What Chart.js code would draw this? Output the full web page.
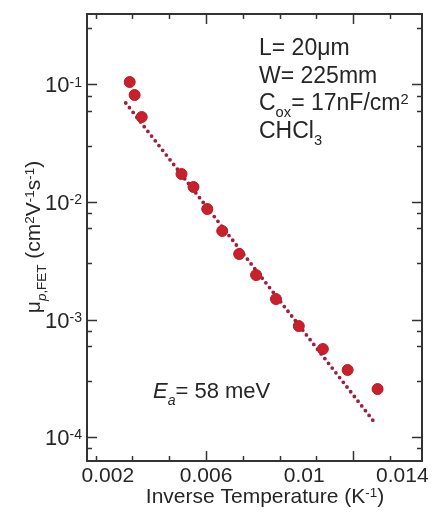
<!DOCTYPE html>
<html>
<head>
<meta charset="utf-8">
<script src="https://cdn.jsdelivr.net/npm/chart.js@4.4.1/dist/chart.umd.min.js"></script>
<style>
  html, body { margin: 0; padding: 0; background: #fff; }
  #wrap { width: 432px; height: 521px; position: relative; }
</style>
</head>
<body>
<div id="wrap"><canvas id="chart"></canvas></div>
<script>
// measured mobility vs inverse temperature
const inverseTemp = [0.00289, 0.00309, 0.00338, 0.00500, 0.00549, 0.00605, 0.00666,
                     0.00735, 0.00804, 0.00885, 0.00978, 0.01076, 0.01177, 0.01299];
const mobility = [0.1050, 0.0814, 0.0529, 0.01731, 0.01342, 0.00872, 0.00567,
                  0.00361, 0.00239, 0.001494, 0.000880, 0.000561, 0.000372, 0.000256];

// Arrhenius fit end points
const fitInverseTemp = [0.00273, 0.01282];
const fitMobility = [0.0696, 0.000137];

const xTickLabels = ['0.002', '0.006', '0.01', '0.014'];
const yDecades = [-1, -2, -3, -4];

const FONT = '"Liberation Sans", Arial, Helvetica, sans-serif';
const INK = '#262626';

// draw a run of text pieces; each piece may be 'sup', 'sub' and/or italic
function richWidth(ctx, parts, size) {
  let w = 0;
  parts.forEach(p => {
    const s = (p.sup || p.sub) ? size * 0.64 : size;
    ctx.font = (p.it ? 'italic ' : '') + s + 'px ' + FONT;
    w += ctx.measureText(p.t).width;
  });
  return w;
}

function drawRich(ctx, x, y, parts, size, align) {
  const w = richWidth(ctx, parts, size);
  let cx = align === 'right' ? x - w : align === 'center' ? x - w / 2 : x;
  ctx.textAlign = 'left';
  ctx.textBaseline = 'alphabetic';
  parts.forEach(p => {
    const s = (p.sup || p.sub) ? size * 0.64 : size;
    ctx.font = (p.it ? 'italic ' : '') + s + 'px ' + FONT;
    let dy = 0;
    if (p.sup) dy = -size * 0.27;
    if (p.sub) dy = size * 0.3;
    ctx.fillText(p.t, cx, y + dy);
    cx += ctx.measureText(p.t).width;
  });
}

const framePlugin = {
  id: 'frame',
  afterDraw(chart) {
    const ctx = chart.ctx;
    const a = chart.chartArea;
    const xs = chart.scales.x, ys = chart.scales.y;
    ctx.save();
    ctx.fillStyle = INK;
    ctx.strokeStyle = '#333';

    // inward ticks on all four sides
    ctx.lineWidth = 1.5;
    ctx.beginPath();
    xs.ticks.forEach(t => {
      const px = Math.round(xs.getPixelForValue(t.value)) + 0.5;
      const len = t.major ? 10 : 5;
      ctx.moveTo(px, a.bottom); ctx.lineTo(px, a.bottom - len);
      ctx.moveTo(px, a.top); ctx.lineTo(px, a.top + len);
    });
    ys.ticks.forEach(t => {
      const py = Math.round(ys.getPixelForValue(t.value)) + 0.5;
      const len = t.major ? 10 : 5;
      ctx.moveTo(a.left, py); ctx.lineTo(a.left + len, py);
      ctx.moveTo(a.right, py); ctx.lineTo(a.right - len, py);
    });
    ctx.stroke();

    // frame
    ctx.lineWidth = 2;
    ctx.strokeRect(a.left, a.top, a.right - a.left, a.bottom - a.top);

    // x tick labels
    ctx.font = '21px ' + FONT;
    ctx.textAlign = 'center';
    ctx.textBaseline = 'alphabetic';
    xTickLabels.forEach(l => {
      ctx.fillText(l, xs.getPixelForValue(parseFloat(l)), a.bottom + 21);
    });

    // y tick labels
    yDecades.forEach(d => {
      const py = ys.getPixelForValue(Math.pow(10, d));
      drawRich(ctx, 82, py + 8, [{ t: '10' }, { t: String(d), sup: true }], 22, 'right');
    });

    // axis titles
    drawRich(ctx, 265, 503, [{ t: 'Inverse Temperature (K' }, { t: '-1', sup: true }, { t: ')' }], 21, 'center');

    ctx.save();
    ctx.translate(40, 237);
    ctx.rotate(-Math.PI / 2);
    drawRich(ctx, 0, 0, [
      { t: 'μ' }, { t: 'p', sub: true, it: true }, { t: ',FET', sub: true },
      { t: ' (cm' }, { t: '2', sup: true }, { t: 'V' }, { t: '-1', sup: true },
      { t: 's' }, { t: '-1', sup: true }, { t: ')' }
    ], 21, 'center');
    ctx.restore();

    // device notes
    const nx = 259;
    drawRich(ctx, nx, 55, [{ t: 'L= 20μm' }], 23);
    drawRich(ctx, nx, 83, [{ t: 'W= 225mm' }], 23);
    drawRich(ctx, nx, 110, [{ t: 'C' }, { t: 'ox', sub: true }, { t: '= 17nF/cm' }, { t: '2', sup: true }], 23);
    drawRich(ctx, nx, 138, [{ t: 'CHCl' }, { t: '3', sub: true }], 23);

    drawRich(ctx, 153, 398, [{ t: 'E', it: true }, { t: 'a', sub: true, it: true }, { t: '= 58 meV' }], 22);

    ctx.restore();
  }
};

new Chart(document.getElementById('chart'), {
  type: 'scatter',
  data: {
    datasets: [
      {
        label: 'data',
        data: inverseTemp.map((x, i) => ({ x, y: mobility[i] })),
        pointRadius: 5.5,
        pointBackgroundColor: '#c9202b',
        pointBorderColor: '#b51c27',
        pointBorderWidth: 1
      },
      {
        label: 'fit',
        data: fitInverseTemp.map((x, i) => ({ x, y: fitMobility[i] })),
        showLine: true,
        pointRadius: 0,
        borderColor: '#9e1f3a',
        borderWidth: 3.8,
        borderDash: [0, 6],
        borderCapStyle: 'round'
      }
    ]
  },
  options: {
    responsive: true,
    maintainAspectRatio: false,
    animation: false,
    layout: { padding: { left: 87, top: 14, right: 10, bottom: 60 } },
    plugins: { legend: { display: false }, tooltip: { enabled: false } },
    scales: {
      x: {
        type: 'linear',
        display: false,
        min: 0.00115,
        max: 0.0148,
        afterBuildTicks(scale) {
          const ticks = [];
          for (let k = 3; k <= 29; k++) {
            ticks.push({ value: k * 0.0005, major: k % 4 === 0 });
          }
          scale.ticks = ticks;
        }
      },
      y: {
        type: 'logarithmic',
        display: false,
        min: 6.25e-5,
        max: 0.398,
        afterBuildTicks(scale) {
          const ticks = [];
          for (let d = -5; d <= -1; d++) {
            for (let m = 1; m <= 9; m++) {
              const v = m * Math.pow(10, d);
              if (v >= scale.min && v <= scale.max) ticks.push({ value: v, major: m === 1 });
            }
          }
          scale.ticks = ticks;
        }
      }
    }
  },
  plugins: [framePlugin]
});
</script>
</body>
</html>
